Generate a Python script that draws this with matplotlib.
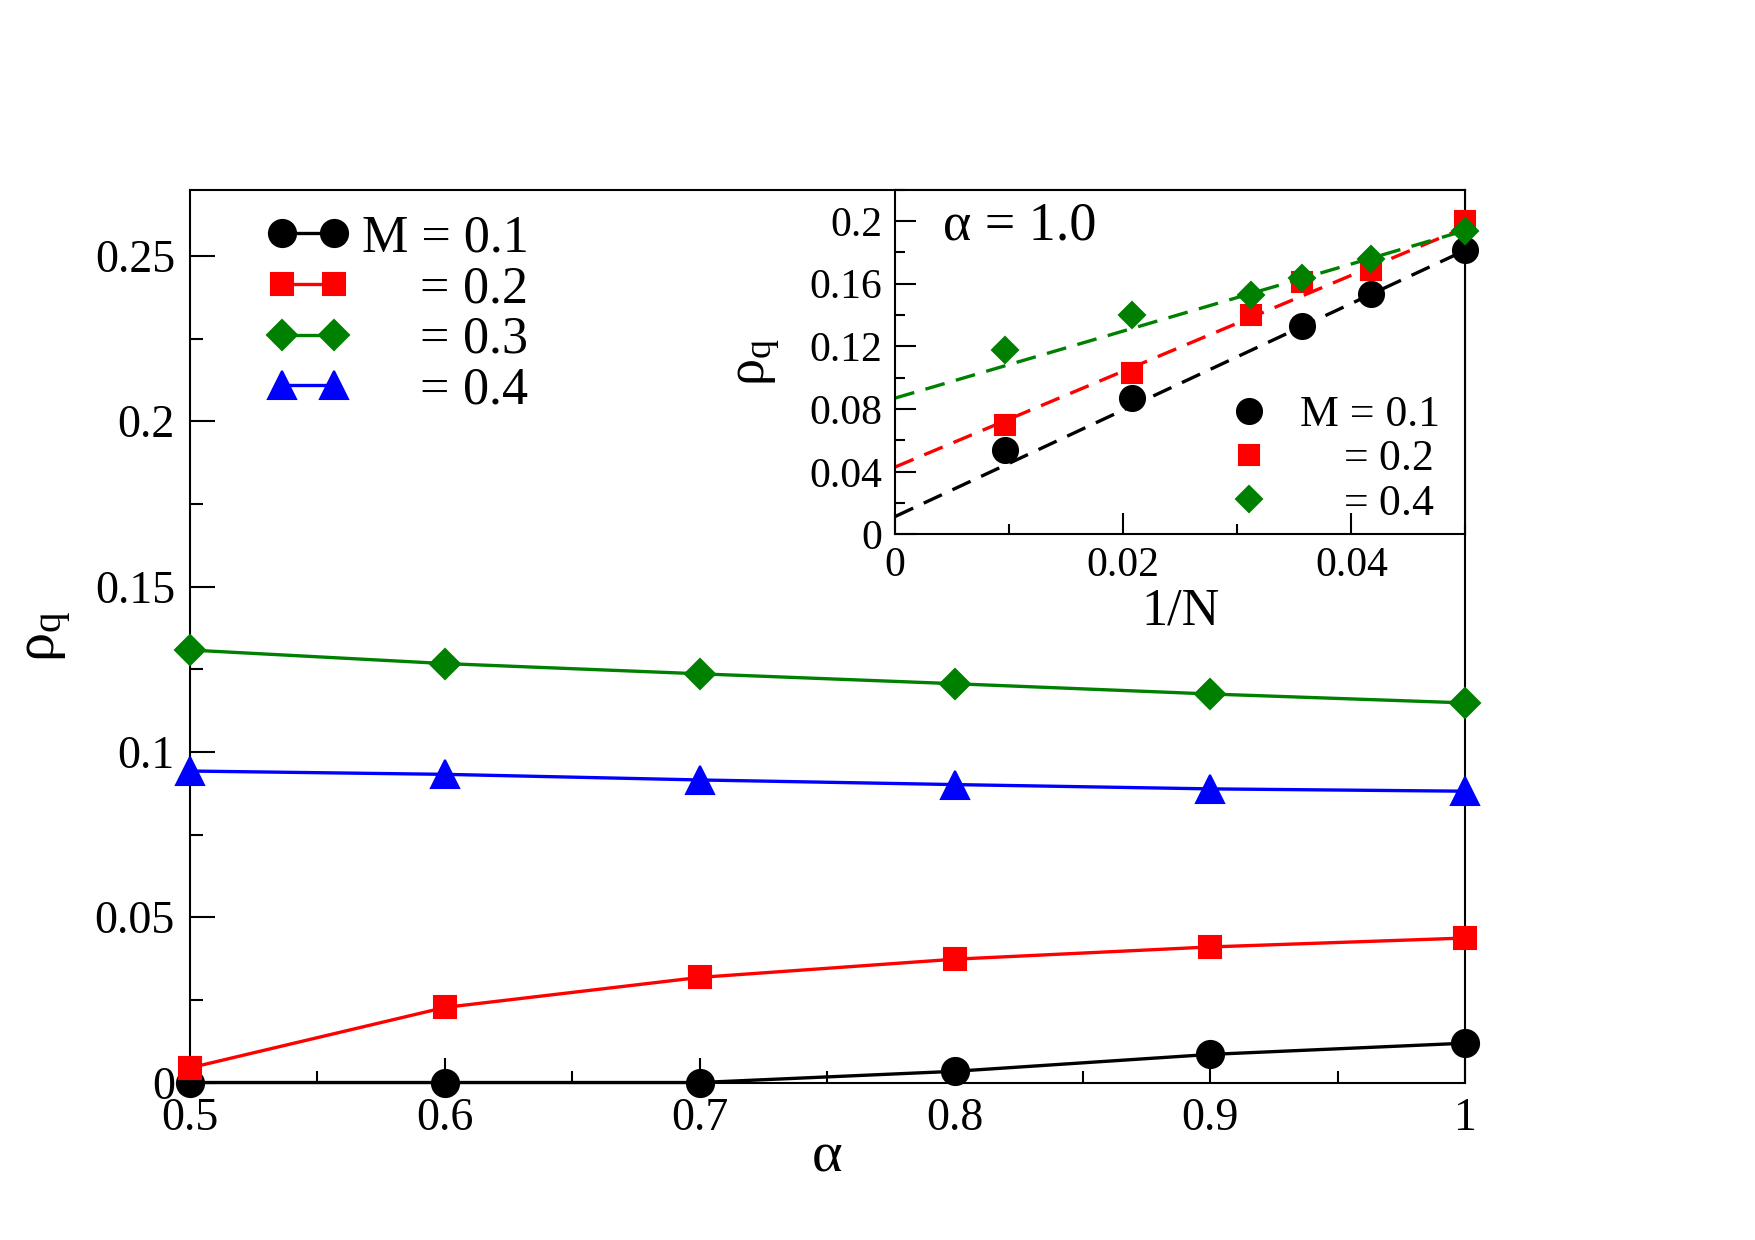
import matplotlib
matplotlib.use("Agg")
import matplotlib.pyplot as plt
import numpy as np
from matplotlib.ticker import MultipleLocator, FormatStrFormatter

plt.rcParams['font.family'] = ['Liberation Serif', 'DejaVu Serif']
plt.rcParams['mathtext.fontset'] = 'custom'
plt.rcParams['mathtext.rm'] = 'Liberation Serif'
plt.rcParams['mathtext.it'] = 'Liberation Serif'
plt.rcParams['mathtext.bf'] = 'Liberation Serif:bold'

# Main panel data: rho_q vs alpha
alpha = [0.5, 0.6, 0.7, 0.8, 0.9, 1.0]
rho_m01 = [0.0, 0.0, 0.0, 0.0034, 0.0085, 0.0119]
rho_m02 = [0.0044, 0.0227, 0.0318, 0.0373, 0.0410, 0.0437]
rho_m03 = [0.1308, 0.1267, 0.1236, 0.1206, 0.1175, 0.1148]
rho_m04 = [0.0942, 0.0932, 0.0915, 0.0901, 0.0888, 0.0881]

# Inset data: rho_q vs 1/N at alpha = 1.0
invN_m01 = [0.0096, 0.0208, 0.0357, 0.0417, 0.05]
ins_m01 = [0.0536, 0.0871, 0.1329, 0.1536, 0.1814]
invN_other = [0.0096, 0.0208, 0.0312, 0.0357, 0.0417, 0.05]
ins_m02 = [0.070, 0.1029, 0.140, 0.1614, 0.1686, 0.200]
ins_m04 = [0.1179, 0.140, 0.1529, 0.1636, 0.1757, 0.1936]

# Linear extrapolation lines (intercept, slope)
fit_m01 = (0.0114, 3.40)
fit_m02 = (0.0430, 3.06)
fit_m04 = (0.0870, 2.14)

pad_main = r'$\hspace{1.1}$'
pad_ins = r'$\hspace{0.95}$'

fig = plt.figure(figsize=(11.7, 8.2667), dpi=150)
ax = fig.add_axes([0.108, 0.127, 0.727, 0.720])

ax.plot(alpha, rho_m01, '-o', color='black', lw=1.6, ms=13, clip_on=False, zorder=5, label='M = 0.1')
ax.plot(alpha, rho_m02, '-s', color='red', lw=1.6, ms=11, clip_on=False, zorder=5, label=pad_main + ' = 0.2')
ax.plot(alpha, rho_m03, '-D', color='green', lw=1.6, ms=10, clip_on=False, zorder=5, label=pad_main + ' = 0.3')
ax.plot(alpha, rho_m04, '-^', color='blue', lw=1.6, ms=13, clip_on=False, zorder=5, label=pad_main + ' = 0.4')

ax.set_xlim(0.5, 1.0)
ax.set_ylim(0, 0.27)
ax.xaxis.set_major_locator(MultipleLocator(0.1))
ax.xaxis.set_minor_locator(MultipleLocator(0.05))
ax.yaxis.set_major_locator(MultipleLocator(0.05))
ax.yaxis.set_minor_locator(MultipleLocator(0.025))
ax.xaxis.set_major_formatter(FormatStrFormatter('%g'))
ax.yaxis.set_major_formatter(FormatStrFormatter('%g'))
ax.tick_params(which='both', direction='in', top=False, right=False, labelsize=22, width=1.0)
ax.tick_params(which='major', length=12, pad=7)
ax.tick_params(which='minor', length=6)
for s in ax.spines.values():
    s.set_linewidth(1.0)
ax.set_xlabel('α', fontsize=28, labelpad=-4)
ax.set_ylabel(r'$\rho_q$', fontsize=28, labelpad=10)

ax.legend(loc='upper left', bbox_to_anchor=(0.060, 0.972), frameon=False, numpoints=2,
          fontsize=25, handlelength=1.6, handletextpad=0.25, labelspacing=0.05,
          borderpad=0, borderaxespad=0)

# Inset
ins = fig.add_axes([0.510, 0.569, 0.325, 0.278])
xs = np.array([0.0, 0.05])
ins.plot(xs, fit_m01[0] + fit_m01[1] * xs, '--', color='black', lw=1.6, dashes=(6, 3.5))
ins.plot(xs, fit_m02[0] + fit_m02[1] * xs, '--', color='red', lw=1.6, dashes=(6, 3.5))
ins.plot(xs, fit_m04[0] + fit_m04[1] * xs, '--', color='green', lw=1.6, dashes=(6, 3.5))
ins.plot(invN_m01, ins_m01, 'o', color='black', ms=12, clip_on=False, zorder=5, label='M = 0.1')
ins.plot(invN_other, ins_m02, 's', color='red', ms=10, clip_on=False, zorder=5, label=pad_ins + ' = 0.2')
ins.plot(invN_other, ins_m04, 'D', color='green', ms=9, clip_on=False, zorder=5, label=pad_ins + ' = 0.4')

ins.set_xlim(0, 0.05)
ins.set_ylim(0, 0.22)
ins.xaxis.set_major_locator(MultipleLocator(0.02))
ins.xaxis.set_minor_locator(MultipleLocator(0.01))
ins.yaxis.set_major_locator(MultipleLocator(0.04))
ins.yaxis.set_minor_locator(MultipleLocator(0.02))
ins.xaxis.set_major_formatter(FormatStrFormatter('%g'))
ins.yaxis.set_major_formatter(FormatStrFormatter('%g'))
ins.tick_params(which='both', direction='in', top=False, right=False, labelsize=20, width=1.0)
ins.tick_params(which='major', length=10, pad=6)
ins.tick_params(which='minor', length=5)
for s in ins.spines.values():
    s.set_linewidth(1.0)
ins.set_xlabel('1/N', fontsize=25, labelpad=1)
ins.set_ylabel(r'$\rho_q$', fontsize=26, labelpad=13)
ins.text(0.084, 0.895, 'α = 1.0', transform=ins.transAxes, fontsize=26, va='center', ha='left')
ins.legend(loc='upper left', bbox_to_anchor=(0.583, 0.405), frameon=False, numpoints=1,
           fontsize=21, handlelength=1.0, handletextpad=0.65, labelspacing=0.1,
           borderpad=0, borderaxespad=0)

fig.savefig('out.png', dpi=150)
